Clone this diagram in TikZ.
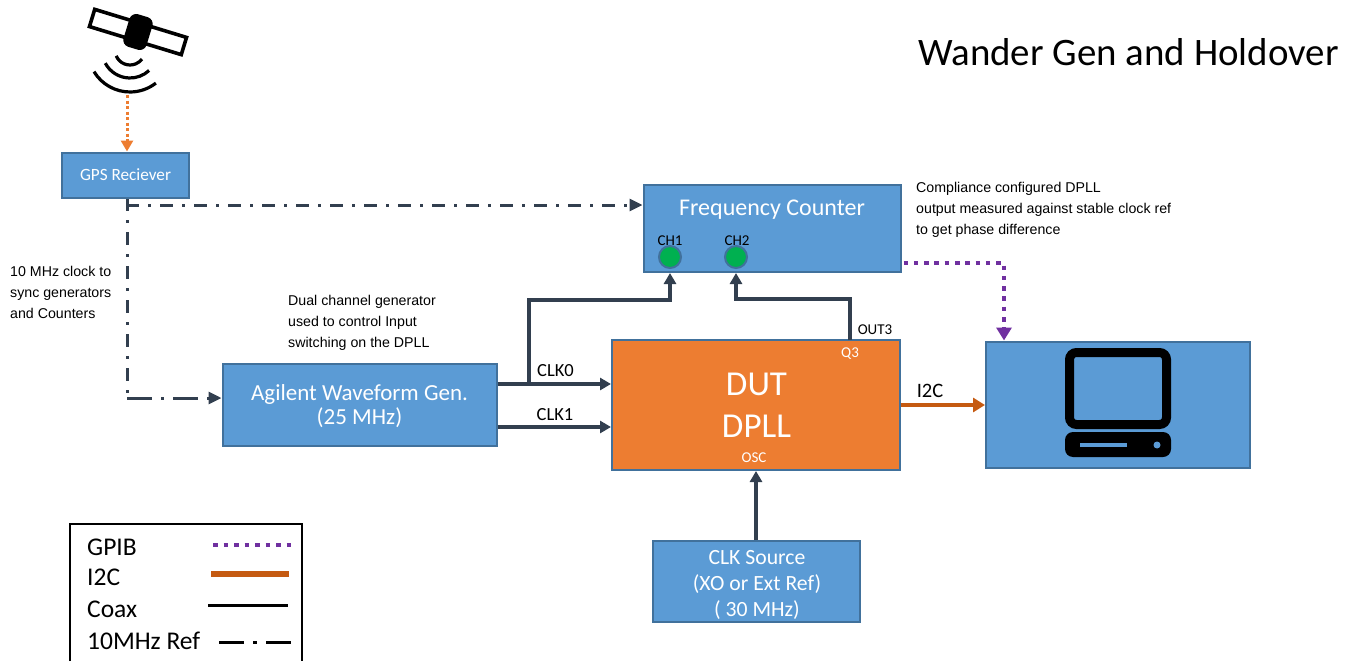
\documentclass[tikz,border=0pt]{standalone}
\usepackage{fontspec}
\setmainfont{Carlito}
\newfontfamily\arialf{Liberation Sans}
\usetikzlibrary{arrows.meta,calc}
\definecolor{boxblue}{HTML}{5B9BD5}
\definecolor{boxline}{HTML}{41719C}
\definecolor{dutorange}{HTML}{ED7D31}
\definecolor{darkline}{HTML}{323F4F}
\definecolor{gpibpurple}{HTML}{7030A0}
\definecolor{ictwo}{HTML}{C55A11}
\definecolor{portgreen}{HTML}{00B050}
\tikzset{
 blockbox/.style={draw=boxline,line width=2pt,fill=boxblue,text=white,align=center,inner sep=0pt},
 blocktext/.style={text=white,align=center,inner sep=0pt},
 coaxline/.style={draw=darkline,line width=3.2pt,-{Triangle[length=11pt,width=12pt]}},
 refline/.style={draw=darkline,line width=3pt,dash pattern=on 13pt off 9pt on 3pt off 9pt,dash phase=1pt},
 reflong/.style={draw=darkline,line width=3pt,dash pattern=on 25pt off 9pt on 3pt off 9pt},
 reftip/.style={-{Triangle[length=13pt,width=12pt]}},
 gpibline/.style={draw=gpibpurple,line width=4.8pt,dash pattern=on 4.5pt off 5.8pt,dash phase=-2pt,-{Triangle[length=13pt,width=15pt]}},
 icline/.style={draw=ictwo,line width=4.5pt,-{Triangle[length=12pt,width=14pt]}},
 gpsline/.style={draw=dutorange,line width=3pt,dash pattern=on 3pt off 2.5pt,-{Triangle[length=11pt,width=12pt]}},
 note/.style={font=\arialf\fontsize{14.2}{21}\selectfont,align=left,inner sep=0pt,anchor=north west},
 portlabel/.style={font=\fontsize{15}{17}\selectfont,inner sep=0pt},
 clklabel/.style={font=\fontsize{18.5}{20}\selectfont,inner sep=0pt},
 legendtext/.style={font=\fontsize{25.5}{28}\selectfont,inner sep=0pt,anchor=west},
 port/.style={circle,draw=boxline,line width=2pt,fill=portgreen,minimum size=22pt,inner sep=0pt},
}
\begin{document}
\begin{tikzpicture}[x=1pt,y=-1pt]
\useasboundingbox (0,0) rectangle (1354,661);
% satellite
\begin{scope}[shift={(138,32)},rotate=-17]
 \draw[line width=3.6pt] (-48,-9) rectangle (48,9);
 \fill[rounded corners=7pt] (-12,-17) rectangle (12,17);
\end{scope}
\draw[line width=3.2pt] ($(130,50)+(-157:15pt)$) arc[start angle=-157,end angle=-37,radius=15pt];
\draw[line width=3.2pt] ($(130,50)+(-152:28pt)$) arc[start angle=-152,end angle=-47,radius=28pt];
\draw[line width=3.2pt] ($(130,50)+(-149:42pt)$) arc[start angle=-149,end angle=-52,radius=42pt];
\coordinate (satout) at (127,95);
% title
\node[inner sep=0pt,anchor=west,font=\fontsize{38.9}{42}\selectfont] (title) at (918,52) {Wander Gen and Holdover};
% blocks
\node[blockbox,minimum width=127pt,minimum height=45pt,font=\fontsize{17.2}{20}\selectfont] (gps) at (125.500,175) {GPS Reciever};
\node[blockbox,minimum width=257pt,minimum height=87pt] (fc) at (772,228.500) {};
\node[blocktext,font=\fontsize{24}{26}\selectfont] (fclabel) at (772,209.500) {Frequency Counter};
\node[blockbox,minimum width=274pt,minimum height=82pt] (agilent) at (359.500,404.500) {};
\node[blocktext,font=\fontsize{23}{24}\selectfont] (agilentlabel) at (359.500,406.500) {Agilent Waveform Gen.\\(25 MHz)};
\node[blockbox,fill=dutorange,minimum width=288pt,minimum height=130pt] (dut) at (756,405) {};
\node[blocktext,font=\fontsize{35}{42}\selectfont] (dutlabel) at (756.500,405.500) {DUT\\DPLL};
\node[blockbox,minimum width=264pt,minimum height=126pt] (pc) at (1118,404.500) {};
\node[blockbox,minimum width=207pt,minimum height=81pt] (clk) at (756.500,581.500) {};
\node[blocktext,font=\fontsize{21.7}{26}\selectfont] (clklabel) at (757,585) {CLK Source\\(XO or Ext Ref)\\( 30 MHz)};
% ports
\node[port] (ch1) at (670,257) {};
\node[port] (ch2) at (736,257) {};
\node[portlabel] (ch1t) at (670,240.500) {CH1};
\node[portlabel] (ch2t) at (737,240.500) {CH2};
\node[portlabel,text=white] (q3) at (850,354) {Q3};
\node[portlabel,text=white] (osc) at (754,458) {OSC};
\node[portlabel] (out3t) at (875,330) {OUT3};
% computer icon
\draw[line width=9pt,rounded corners=7pt] (1069.500,352.500) rectangle (1166.500,424.500);
\fill[rounded corners=8pt] (1065,432) rectangle (1171,457);
\fill[boxblue] (1080,443) rectangle (1127,447);
\fill[boxblue] (1157,445) circle[radius=3.5pt];
% connectors
\draw[gpsline] (satout) -- (gps.north -| satout);
\coordinate (gpsbot) at (127,199);
\coordinate (refcorner) at (127,398);
\draw[refline] (gpsbot) -- (refcorner);
\draw[reflong,reftip] (refcorner) -- (refcorner -| agilent.west);
\coordinate (brref) at (127,205);
\draw[refline,reftip] (brref) -- (brref -| fc.west);
\coordinate (clk0a) at (agilent.east |- 0,384);
\coordinate (clk1a) at (agilent.east |- 0,427);
\draw[coaxline] (clk0a) -- (clk0a -| dut.west);
\draw[coaxline] (clk1a) -- (clk1a -| dut.west);
\coordinate (br0) at (529,384);
\draw[coaxline] (br0) -- (529,300) -- (ch1.south |- 0,300) -- (ch1.south |- fc.south);
\coordinate (q3top) at (850,340);
\draw[coaxline] (q3top) -- (850,299) -- (ch2.south |- 0,299) -- (ch2.south |- fc.south);
\draw[coaxline] (clk.north -| 756,0) -- (dut.south -| 756,0);
\coordinate (gpa) at (fc.east |- 0,263);
\draw[gpibline] (gpa) -- (1004,263) -- (pc.north -| 1004,0);
\coordinate (ica) at (dut.east |- 0,405);
\draw[icline] (ica) -- (ica -| pc.west);
% connector labels
\node[clklabel] (clk0t) at (555.500,371) {CLK0};
\node[clklabel] (clk1t) at (555,415) {CLK1};
\node[inner sep=0pt,font=\fontsize{20.500}{24}\selectfont] (i2ct) at (930,391) {I2C};
% notes
\node[note] (n1) at (10,266.500) {10 MHz clock to\\sync generators\\and Counters};
\node[note] (n2) at (288,295.500) {Dual channel generator\\used to control Input\\switching on the DPLL};
\node[note] (n3) at (916,182.500) {Compliance configured DPLL\\output measured against stable clock ref\\to get phase difference};
% legend
\draw[line width=2pt] (70,661) -- (70,523.500) -- (302,523.500) -- (302,661);
\node[legendtext] (l1) at (87,547) {GPIB};
\node[legendtext] (l2) at (87,577) {I2C};
\node[legendtext] (l3) at (87,609) {Coax};
\node[legendtext] (l4) at (87,641) {10MHz Ref};
\coordinate (l1a) at (213,545); \coordinate (l1b) at (292,545);
\coordinate (l2a) at (211,574); \coordinate (l2b) at (289,574);
\coordinate (l3a) at (208,605); \coordinate (l3b) at (288,605);
\coordinate (l4a) at (219,642); \coordinate (l4b) at (291,642);
\draw[gpibpurple,line width=4.8pt,dash pattern=on 4.5pt off 6pt] (l1a) -- (l1b);
\draw[ictwo,line width=6pt] (l2a) -- (l2b);
\draw[line width=3pt] (l3a) -- (l3b);
\draw[line width=3pt,dash pattern=on 25pt off 9pt on 4pt off 9pt] (l4a) -- (l4b);
\end{tikzpicture}
\end{document}
